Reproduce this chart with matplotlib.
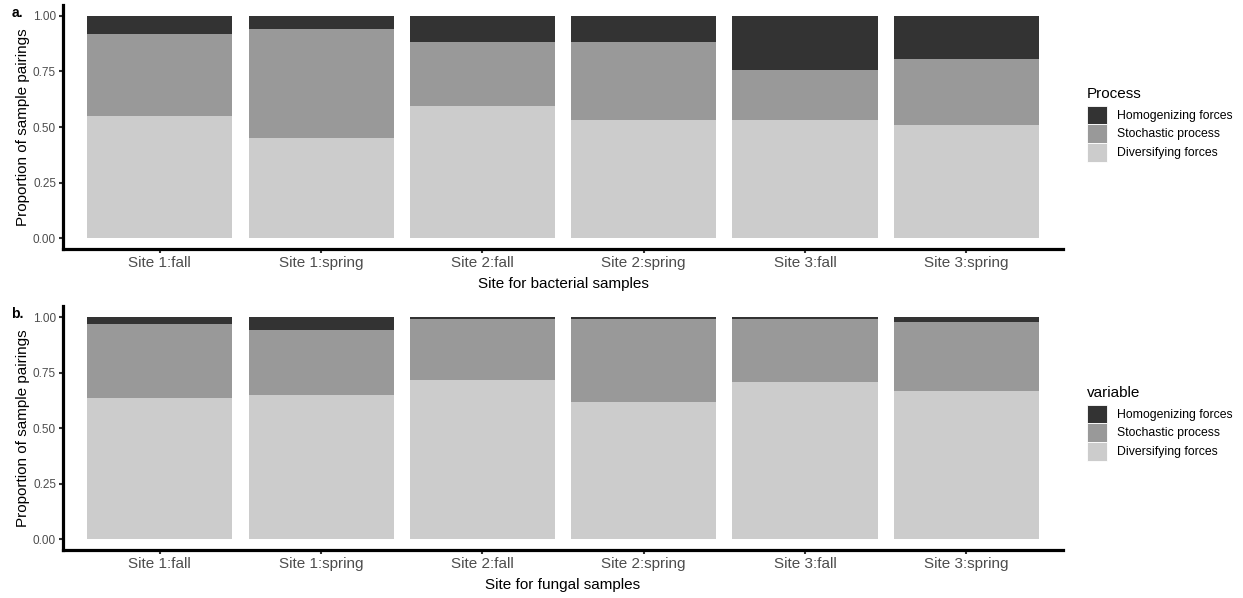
import numpy as np
import matplotlib
matplotlib.use('Agg')
import matplotlib.pyplot as plt
from matplotlib.patches import Patch

plt.rcParams['font.family'] = ['Liberation Sans', 'DejaVu Sans']

sites = ['Site 1:fall', 'Site 1:spring', 'Site 2:fall', 'Site 2:spring', 'Site 3:fall', 'Site 3:spring']
processes = ['Homogenizing forces', 'Stochastic process', 'Diversifying forces']
fills = ['#333333', '#999999', '#CCCCCC']

# proportions per site (bacteria)
bac_div = [0.548, 0.452, 0.593, 0.531, 0.531, 0.509]
bac_sto = [0.368, 0.487, 0.289, 0.351, 0.224, 0.298]
bac_hom = [0.084, 0.061, 0.118, 0.118, 0.245, 0.193]

# proportions per site (fungi)
fun_div = [0.638, 0.651, 0.718, 0.617, 0.709, 0.669]
fun_sto = [0.330, 0.290, 0.273, 0.374, 0.282, 0.308]
fun_hom = [0.032, 0.059, 0.009, 0.009, 0.009, 0.023]

fig = plt.figure(figsize=(12.43, 5.98), dpi=100)
ax_a = fig.add_axes([0.0507, 0.5829, 0.8045, 0.4094])
ax_b = fig.add_axes([0.0507, 0.0796, 0.8045, 0.4084])

def stacked(ax, div, sto, hom, xlabel, legend_title, legend_y):
    x = np.arange(1, len(sites) + 1)
    ax.bar(x, div, width=0.9, color=fills[2], linewidth=0)
    ax.bar(x, sto, width=0.9, bottom=div, color=fills[1], linewidth=0)
    ax.bar(x, hom, width=0.9, bottom=np.array(div) + np.array(sto), color=fills[0], linewidth=0)
    ax.set_xlim(0.4, 6.6)
    ax.set_ylim(-0.05, 1.05)
    ax.set_xticks(x)
    ax.set_xticklabels(sites)
    ax.set_yticks([0, 0.25, 0.5, 0.75, 1.0])
    ax.set_yticklabels(['0.00', '0.25', '0.50', '0.75', '1.00'])
    for s in ['top', 'right']:
        ax.spines[s].set_visible(False)
    for s in ['left', 'bottom']:
        ax.spines[s].set_linewidth(2.3)
        ax.spines[s].set_color('black')
    ax.tick_params(axis='x', length=3, width=1.5, color='#333333', labelsize=11, labelcolor='#4D4D4D', pad=2)
    ax.tick_params(axis='y', length=3, width=1.5, color='#333333', labelsize=8.5, labelcolor='#4D4D4D', pad=2)
    ax.set_xlabel(xlabel, fontsize=11, color='black', labelpad=5)
    ax.set_ylabel('Proportion of sample pairings', fontsize=11, color='black', labelpad=2)
    handles = [Patch(facecolor=c, edgecolor='white', linewidth=0.6) for c in fills]
    leg = fig.legend(handles, processes, title=legend_title, loc='upper left',
                     bbox_to_anchor=(0.8705, legend_y), frameon=False, fontsize=8.8,
                     title_fontsize=11, handlelength=1.65, handleheight=1.95,
                     labelspacing=0.02, handletextpad=0.8, borderaxespad=0)
    leg._legend_box.align = 'left'
    leg._legend_box.sep = 3

stacked(ax_a, bac_div, bac_sto, bac_hom, 'Site for bacterial samples', 'Process', 0.862)
stacked(ax_b, fun_div, fun_sto, fun_hom, 'Site for fungal samples', 'variable', 0.362)

fig.text(0.009, 0.972, 'a.', fontsize=10, fontweight='bold')
fig.text(0.009, 0.468, 'b.', fontsize=10, fontweight='bold')

fig.savefig('out.png', dpi=100)
